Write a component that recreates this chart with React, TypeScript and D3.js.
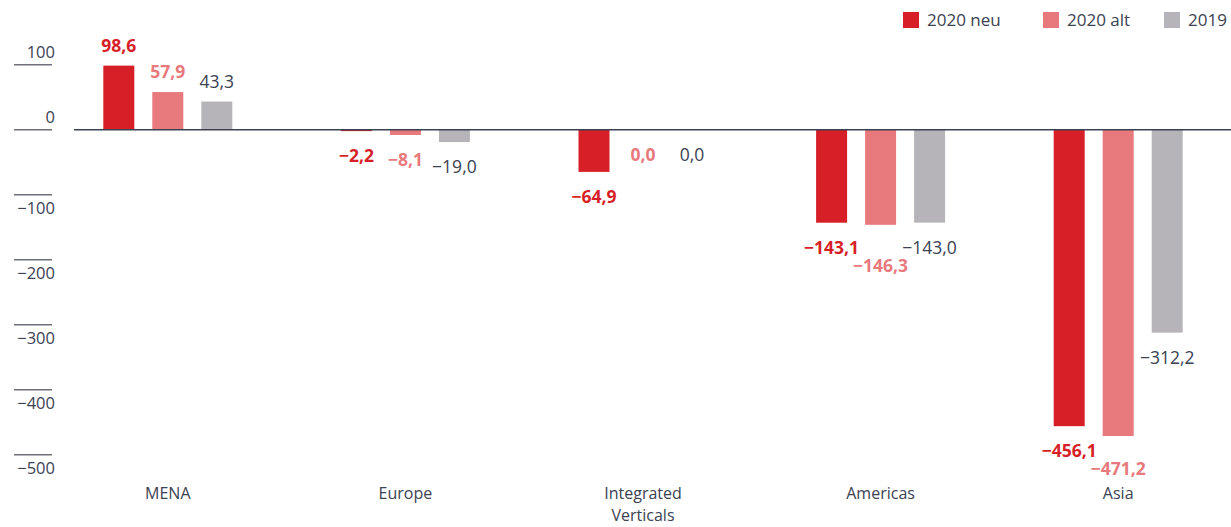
import React, { useRef, useEffect } from 'react';
import * as d3 from 'd3';

const categories = ['MENA', 'Europe', 'Integrated\nVerticals', 'Americas', 'Asia'];
const series = ['2020 neu', '2020 alt', '2019'];
const values2020neu = [98.6, -2.2, -64.9, -143.1, -456.1];
const values2020alt = [57.9, -8.1, 0.0, -146.3, -471.2];
const values2019 = [43.3, -19.0, 0.0, -143.0, -312.2];
const yTicks = [100, 0, -100, -200, -300, -400, -500];

const colors = ['#d71f28', '#e8797c', '#b6b4b9'];
const labelColors = ['#d71f28', '#e8797c', '#3b4252'];
const textColor = '#3b4252';
const FONT = '"Open Sans", "Noto Sans", sans-serif';

const fmt = (v: number) => {
  const s = Math.abs(v).toFixed(1).replace('.', ',');
  return (v < 0 ? '\u2212' : '') + s;
};

const ChartD3 = ({ width, height }: { width: number; height: number }) => {
  const svgRef = useRef<SVGSVGElement>(null);

  useEffect(() => {
    const svg = d3.select(svgRef.current);
    svg.selectAll('*').remove();

    const allValues = [values2020neu, values2020alt, values2019];
    const data = categories.flatMap((c, i) =>
      series.map((s, j) => ({ cat: c, ser: s, si: j, value: allValues[j][i] }))
    );

    const y = d3.scaleLinear().domain([-500, 100]).range([454.7, 64.7]);
    const x = d3.scaleBand().domain(categories).range([49, 1237]);
    const xInner = d3.scaleBand()
      .domain(series)
      .range([-73.5, 73.5])
      .paddingInner(18 / 49)
      .paddingOuter(9 / 49);
    const center = (c: string) => (x(c) as number) + x.bandwidth() / 2;

    // y axis: short tick bars, labels above for positive, below for negative
    const yAxis = svg.append('g');
    yAxis.selectAll('line')
      .data(yTicks)
      .enter()
      .append('line')
      .attr('x1', 14)
      .attr('x2', 52)
      .attr('y1', d => y(d))
      .attr('y2', d => y(d))
      .attr('stroke', '#6e717a')
      .attr('stroke-width', 1.5);
    yAxis.selectAll('text')
      .data(yTicks)
      .enter()
      .append('text')
      .attr('x', 55)
      .attr('y', d => (d >= 0 ? y(d) - 7 : y(d) + 19))
      .attr('text-anchor', 'end')
      .attr('font-family', FONT)
      .attr('font-size', 16.5)
      .attr('fill', textColor)
      .text(d => (d < 0 ? '\u2212' + Math.abs(d) : String(d)));

    // bars
    svg.append('g')
      .selectAll('rect')
      .data(data)
      .enter()
      .append('rect')
      .attr('x', d => center(d.cat) + (xInner(d.ser) as number))
      .attr('width', xInner.bandwidth())
      .attr('y', d => y(Math.max(0, d.value)))
      .attr('height', d => Math.abs(y(d.value) - y(0)))
      .attr('fill', d => colors[d.si]);

    // zero line
    svg.append('line')
      .attr('x1', 74)
      .attr('x2', width)
      .attr('y1', y(0))
      .attr('y2', y(0))
      .attr('stroke', '#3b4252')
      .attr('stroke-width', 1.5);

    // value labels, pushed down when they collide with an earlier one
    const placed: { x0: number; x1: number; y0: number; y1: number }[] = [];
    const labels = svg.append('g');
    data.forEach(d => {
      const cx = center(d.cat) + (xInner(d.ser) as number) + xInner.bandwidth() / 2;
      const t = labels.append('text')
        .attr('x', cx)
        .attr('text-anchor', 'middle')
        .attr('font-family', FONT)
        .attr('font-size', 17.5)
        .attr('font-weight', d.si < 2 ? 700 : 400)
        .attr('fill', labelColors[d.si])
        .text(fmt(d.value));
      const w = (t.node() as SVGTextElement).getComputedTextLength();
      const h = 17;
      let cy = d.value > 0 ? y(d.value) - 20 : y(Math.min(0, d.value)) + 25;
      let moved = true;
      while (moved) {
        moved = false;
        for (const p of placed) {
          if (cx - w / 2 < p.x1 && cx + w / 2 > p.x0 && cy - h / 2 < p.y1 && cy + h / 2 > p.y0) {
            cy = p.y1 + h / 2 + 1;
            moved = true;
          }
        }
      }
      placed.push({ x0: cx - w / 2, x1: cx + w / 2, y0: cy - h / 2, y1: cy + h / 2 });
      t.attr('y', cy).attr('dy', '0.36em');
    });

    // category labels, one text per line
    const catLines = categories.flatMap(c =>
      c.split('\n').map((line, i) => ({ cat: c, line, i }))
    );
    svg.append('g')
      .selectAll('text')
      .data(catLines)
      .enter()
      .append('text')
      .attr('x', d => center(d.cat))
      .attr('y', d => 499 + d.i * 22)
      .attr('text-anchor', 'middle')
      .attr('font-family', FONT)
      .attr('font-size', 16)
      .attr('fill', textColor)
      .text(d => d.line);

    // legend
    const legendX = [903, 1043, 1164];
    const legend = svg.append('g')
      .selectAll('g')
      .data(series)
      .enter()
      .append('g')
      .attr('transform', (_, i) => `translate(${legendX[i]}, 12)`);
    legend.append('rect')
      .attr('width', 16)
      .attr('height', 16)
      .attr('fill', (_, i) => colors[i]);
    legend.append('text')
      .attr('x', 24)
      .attr('y', 8)
      .attr('dy', '0.36em')
      .attr('font-family', FONT)
      .attr('font-size', 17)
      .attr('fill', textColor)
      .text(d => d);
  }, [width, height]);

  return (
    <svg
      ref={svgRef}
      width={width}
      height={height}
      style={{ position: 'absolute', left: 0, top: 0, background: '#fff' }}
    />
  );
};

export default function App() {
  return <ChartD3 width={1231} height={527} />;
}
